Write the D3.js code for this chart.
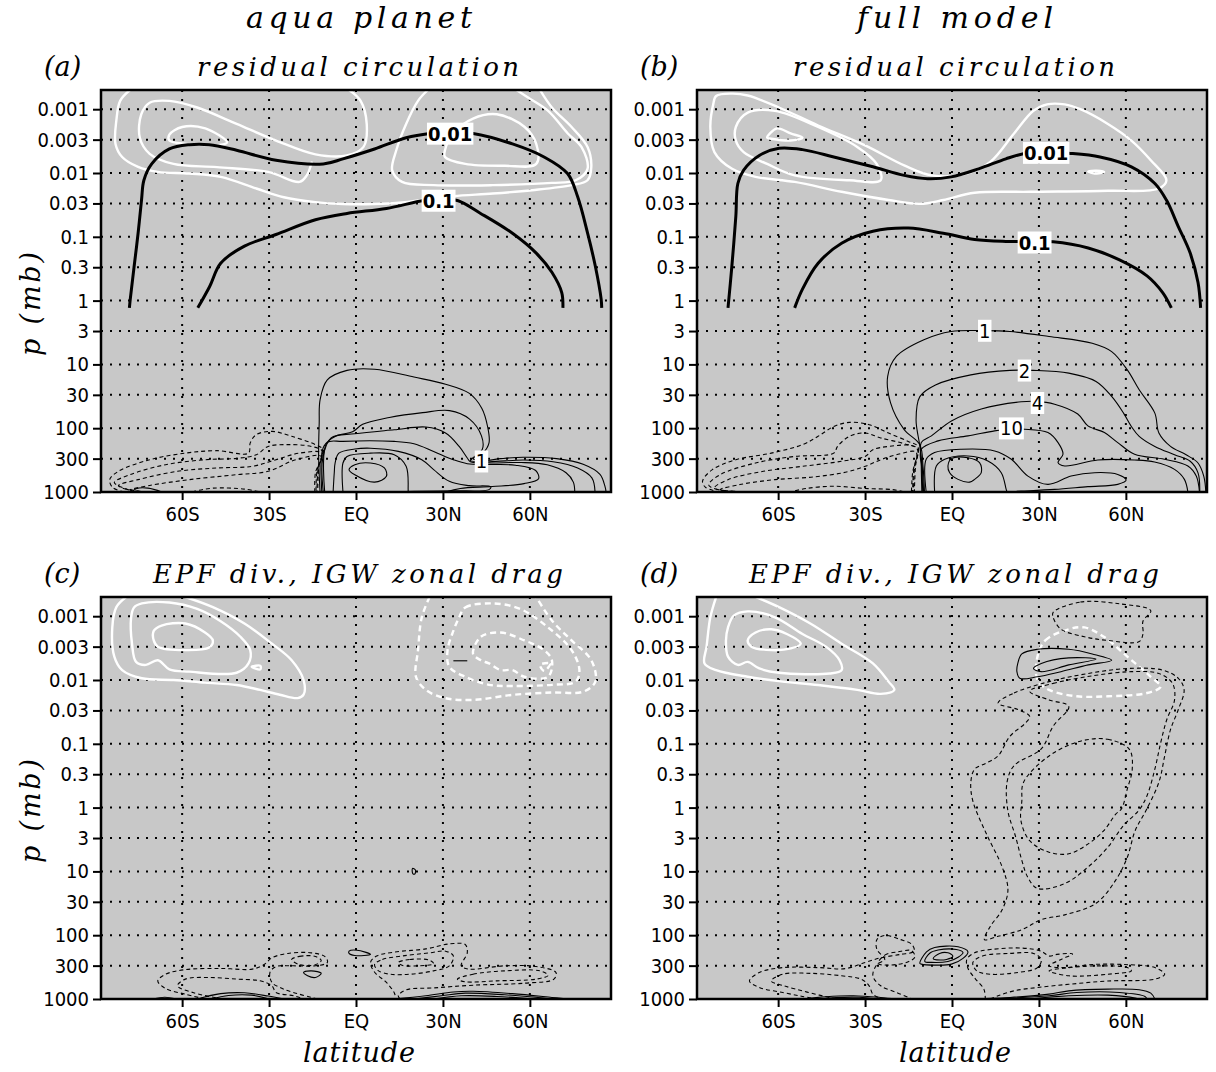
<!DOCTYPE html>
<html>
<head>
<meta charset="utf-8">
<script src="https://cdn.jsdelivr.net/npm/d3@7"></script>
<style>
body { margin: 0; background: #fff; }
.tk text { font-family: "Liberation Sans Narrow", "DejaVu Sans Condensed", sans-serif; font-stretch: condensed; font-size: 20px; fill: #000; }
.ttl { font-family: "DejaVu Serif", "Liberation Serif", serif; font-style: italic; fill: #000; }
.lab { font-family: "Liberation Sans Narrow", "DejaVu Sans Condensed", sans-serif; font-stretch: condensed; font-size: 20px; }
</style>
</head>
<body>
<svg width="1216" height="1072"></svg>
<script>
// axis values
var pTicks = [0.001, 0.003, 0.01, 0.03, 0.1, 0.3, 1, 3, 10, 30, 100, 300, 1000];
var pTickLabels = ["0.001", "0.003", "0.01", "0.03", "0.1", "0.3", "1", "3", "10", "30", "100", "300", "1000"];
var latTicks = [-60, -30, 0, 30, 60];
var latTickLabels = ["60S", "30S", "EQ", "30N", "60N"];
var colTitles = ["aqua planet", "full model"];
var panelTitles = ["residual circulation", "residual circulation", "EPF div., IGW zonal drag", "EPF div., IGW zonal drag"];
var panelTags = ["(a)", "(b)", "(c)", "(d)"];

// contours, points are [latitude, pressure mb]
// ---- panel a ----
var aWhite = [
  [[-78,0.0005],[-81.4,0.00074],[-82.7,0.0015],[-83,0.0035],[-80.7,0.0056],[-75.2,0.008],[-68.4,0.0096],[-57.6,0.0102],[-46.7,0.0115],[-34.4,0.0175],[-24.9,0.024],[-14,0.0286],[-4.5,0.0306],[6.4,0.0306],[15.9,0.029],[22.7,0.0265],[33.5,0.023],[47.2,0.021],[60.8,0.0186],[74.4,0.0155],[79.9,0.013],[81.2,0.0081],[79.9,0.0039],[74.4,0.0019],[67.6,0.00094],[63.5,0.0005]],
  [[-2.4,0.0005],[1.6,0.00074],[3.7,0.0017],[2.6,0.0039],[-3.1,0.0053],[-14,0.0051],[-27.6,0.0031],[-41.2,0.0017],[-54.8,0.00094],[-64.4,0.00074],[-71.2,0.00079],[-74.1,0.0012],[-74.6,0.0028],[-71.2,0.005],[-63,0.0072],[-48,0.0081],[-30.3,0.0096],[-19.5,0.0138],[-17,0.0109],[-15.2,0.0066]],
  [[24.8,0.0005],[21.4,0.00074],[17.3,0.0017],[13.9,0.0044],[12.5,0.0091],[15.9,0.0138],[26.8,0.0155],[47.2,0.0155],[67.6,0.0143],[75.8,0.013],[79.9,0.0086],[77.8,0.0039],[73.1,0.0024],[66.3,0.00106],[59.5,0.00066],[55.4,0.0005]]
];
var aWhiteLoop = [
  [[-64.4,0.0025],[-60,0.0019],[-52,0.002],[-44.5,0.0033],[-46.5,0.0036],[-58.6,0.0035],[-64.4,0.0031]],
  [[30.7,0.0044],[33.5,0.0024],[40.4,0.0014],[48.6,0.0012],[58.2,0.0019],[62.2,0.0035],[62.2,0.0072],[51.3,0.0077],[37.7,0.0072],[30.7,0.0056]]
];
var aThick = [
  [[-78.2,1.3],[-77.9,0.95],[-76.6,0.3],[-75.2,0.088],[-74,0.026],[-73.2,0.013],[-70.5,0.0072],[-64.4,0.0042],[-57.5,0.0036],[-50.7,0.0036],[-41.2,0.0044],[-27.6,0.0063],[-11.3,0.0072],[-4.5,0.006],[6.4,0.0042],[17.3,0.0028],[25.4,0.0024],[32,0.0023],[40.4,0.0024],[54,0.0035],[64.9,0.0056],[73,0.0102],[76.5,0.0236],[79.9,0.087],[82.6,0.29],[84.6,0.95],[84.8,1.3]],
  [[-54.6,1.3],[-50.5,0.6],[-46.7,0.26],[-38.5,0.14],[-27.6,0.092],[-14,0.054],[-3.1,0.043],[10.5,0.036],[23.4,0.027],[29,0.026],[35,0.027],[43,0.043],[54,0.088],[62.2,0.18],[67.6,0.36],[71,0.75],[71.4,1.3]]
];
var aThickLabels = [["0.01", 32.5, 0.0024], ["0.1", 28.5, 0.027]];
var aThin = [
  [[-12.4,1000],[-12.9,277],[-12.7,83],[-12.4,36],[-9.9,17.5],[-3.1,12.4],[6.4,11.9],[20,15.8],[30.9,20.4],[39,28.2],[43.4,48.5],[45.4,94],[45.9,170],[43.8,246],[40.4,300],[44,322],[50,300],[57.7,285],[69.2,300],[78.4,368],[84.2,530],[85.9,810],[86.3,1000]],
  [[-11.8,1000],[-12,300],[-11,189],[-6.9,132],[-1.2,114],[2.3,87],[11.5,68],[23,57],[32.3,53],[39.2,72],[43.3,132],[43.6,214],[40.4,290],[39.5,322],[46,335],[57.7,315],[68,335],[76.5,420],[81.4,600],[82.5,1000]],
  [[-11.3,1000],[-11.5,300],[-8.6,142],[-0.4,122],[13.2,106],[24.1,96],[30.9,119],[35.6,193],[38.4,293],[39.5,335],[46,350],[57,345],[66,375],[72.5,500],[75,700],[75.5,1000]],
  [[-10.8,1000],[-10,170],[-4.5,161],[13.2,161],[20,175],[26.8,231],[33.6,312],[38.4,360],[46,370],[55,380],[62,460],[63,620],[58,740],[47,820],[36,880],[31,1000]],
  [[-7.9,1000],[-7.5,500],[-7.2,351],[-5.9,246],[-0.4,212],[5,206],[14.6,231],[22.7,312],[26.8,446],[32.2,680],[39,795],[46.5,830],[45.9,918],[33.6,955],[20,975],[12,1000]],
  [[-4.5,1000],[-4.5,351],[-3.1,277],[5,246],[13.2,261],[17.3,396],[18,918],[18,1000]],
  [[-77.3,1000],[-75.9,890],[-71.8,870],[-67,1000]]
];
var aThinLoop = [
  [[-2.4,446],[-0.4,373],[5,351],[9.8,420],[10.5,568],[6.4,700],[-0.4,535]]
];
var aThinLabels = [["1", 43.3, 330]];
var aDash = [
  [[-80,1000],[-84,850],[-85,640],[-82,474],[-71.2,312],[-58.9,246],[-48,225],[-37.1,246],[-36.5,170],[-34.4,126],[-29,112],[-22.2,134],[-14,181],[-11.3,218],[-12.8,400],[-13.2,1000]],
  [[-76,1000],[-82,800],[-83.4,707],[-78,535],[-65.7,373],[-52.1,312],[-41.2,297],[-34.4,261],[-30.3,193],[-23.5,181],[-15.4,193],[-11.6,230],[-13,400],[-13.5,1000]],
  [[-72,1000],[-80.5,870],[-82,790],[-75.2,640],[-61.6,474],[-48,420],[-35.8,396],[-27.6,312],[-19.5,246],[-11.6,246],[-13.4,450],[-13.8,1000]],
  [[-70,1000],[-78,930],[-71.2,790],[-57.5,640],[-41.2,535],[-30.3,474],[-20.8,312],[-12,277],[-14,500],[-14.2,1000]],
  [[-56.5,1000],[-55.5,970],[-49.4,870],[-38.5,900],[-33,1000]]
];

// ---- panel b ----
var bWhiteLoop = [
  [[-81.4,0.00062],[-75.9,0.00057],[-70.5,0.00061],[-59.7,0.00094],[-46.2,0.0018],[-30,0.0037],[-16.5,0.0076],[-7,0.0109],[5.1,0.0102],[13.2,0.0067],[21.4,0.0024],[28.1,0.00106],[32.8,0.00084],[38.9,0.00084],[44.3,0.001],[53.8,0.0017],[61.9,0.0031],[68.6,0.0063],[74,0.013],[71.4,0.0175],[53.8,0.019],[26.8,0.0197],[7.8,0.0204],[-3,0.0265],[-11.1,0.0305],[-21.9,0.0265],[-38.1,0.0197],[-54.3,0.0138],[-67.8,0.0115],[-75.9,0.0086],[-82,0.0047],[-83.4,0.0019],[-82.4,0.00084]],
  [[-74.6,0.0019],[-70.5,0.00113],[-61.1,0.00106],[-46.2,0.0019],[-32.7,0.0039],[-26,0.0072],[-24.6,0.013],[-35.4,0.013],[-54.3,0.0109],[-63.8,0.0072],[-71.9,0.0047],[-74.6,0.0031]],
  [[-63.8,0.0028],[-60.4,0.002],[-55.7,0.0024],[-51.6,0.0028],[-55.7,0.0031],[-62.4,0.0029]],
  [[47,0.0095],[50,0.0092],[52.5,0.0096],[50,0.0102]]
];
var bThick = [
  [[-77.3,1.3],[-76,0.3],[-74.6,0.048],[-73.9,0.0146],[-71.9,0.009],[-66.5,0.0053],[-59.7,0.0041],[-51.6,0.0043],[-40.8,0.0056],[-27.3,0.008],[-16.5,0.0109],[-8.4,0.0123],[-0.3,0.0115],[9.2,0.0086],[18.6,0.006],[25.4,0.0049],[32,0.0047],[40.3,0.0049],[51.1,0.0056],[61.9,0.008],[70,0.0146],[74,0.0266],[78.1,0.069],[82.2,0.18],[84.9,0.52],[85.8,1.3]],
  [[-54.3,1.3],[-51.6,0.66],[-46.2,0.26],[-38.1,0.126],[-27.3,0.082],[-15.1,0.073],[-3,0.088],[7.8,0.11],[18.6,0.118],[26,0.119],[34.9,0.12],[47,0.15],[57.8,0.23],[67.3,0.41],[72.7,0.75],[75.7,1.3]]
];
var bThickLabels = [["0.01", 32.5, 0.0048], ["0.1", 28.5, 0.122]];
var bThin = [
  [[-9.5,1000],[-10,400],[-11.1,181],[-16.5,105],[-21.2,40],[-22.2,15.4],[-19.2,7.5],[-9.7,4.1],[-0.3,3.05],[11.2,2.95],[20,3.05],[33.5,3.66],[48.4,4.66],[55.1,6.3],[60.5,12.2],[64.6,25],[70,58],[71.4,119],[75.4,193],[80.8,261],[84.9,351],[86.9,568],[87.6,1000]],
  [[-9.8,1000],[-10.3,400],[-11.1,190],[-12.4,74],[-11.1,32],[-5.7,21],[6.5,14.6],[20,12.4],[28.1,12.4],[40.3,13.7],[49.7,18.5],[55.1,31.8],[59.2,58],[61.9,94],[64.6,134],[70,193],[76.8,261],[82.2,330],[84.9,502],[85.5,1000]],
  [[-10.1,1000],[-10.4,400],[-10.6,168],[-7.1,132],[-0.2,77],[10.1,50],[23.9,38.6],[29,38],[35.4,42],[43.4,60],[46.9,92],[52.6,117],[57.2,168],[63,256],[73.3,307],[81.4,391],[84.3,563],[85.4,1000]],
  [[-10.4,1000],[-10.6,400],[-10.6,214],[-4.8,158],[5.5,132],[14.7,110],[18,106],[22,104],[25.1,104],[33.1,117],[36.6,168],[38.3,256],[36.6,346],[38.9,391],[50.3,315],[63,315],[69.9,338],[76.8,442],[80.2,634],[81.4,1000]],
  [[-8.9,1000],[-8.9,307],[-6,241],[3.2,214],[14.7,227],[20.5,307],[26.2,563],[33.1,760],[41.1,563],[49.2,498],[57.2,530],[60.1,650],[57.2,760],[46.9,825],[35.4,910],[23.9,970],[18,1000]],
  [[-6,1000],[-5.4,391],[-2.5,307],[5.5,272],[12.4,326],[17,498],[18.7,910],[19,1000]]
];
var bThinLoop = [
  [[-1.4,391],[-0.2,300],[5.5,290],[9.5,346],[10.1,498],[7.8,634],[6.1,700],[2.1,634],[-0.8,498]]
];
var bThinLabels = [["1", 11.3, 2.95], ["2", 25, 12.4], ["4", 29.5, 40], ["10", 20.5, 100]];
var bDash = [
  [[-80,1000],[-85,850],[-86.1,680],[-82.7,446],[-74.6,312],[-62.4,246],[-51.6,181],[-46.2,134],[-40.8,94],[-35.4,81],[-28.6,88],[-21.9,119],[-15.1,161],[-11.8,193],[-12.6,400],[-13,1000]],
  [[-76,1000],[-83,850],[-84,764],[-80,535],[-67.8,351],[-54.3,277],[-40.8,246],[-39.5,193],[-35.4,134],[-30,119],[-24.6,142],[-16.5,175],[-11.8,211],[-12.9,400],[-13.3,1000]],
  [[-73,1000],[-82,865],[-77.3,640],[-65.1,474],[-51.6,396],[-38.1,330],[-30,277],[-27.3,218],[-21.9,193],[-13.8,188],[-11.8,222],[-13.2,450],[-13.6,1000]],
  [[-70,1000],[-80,918],[-73.2,764],[-61.1,640],[-47.6,580],[-36.8,490],[-30,396],[-24.6,312],[-19.2,261],[-12.4,237],[-13.6,500],[-14,1000]],
  [[-56.5,1000],[-55.7,990],[-50.3,880],[-40.8,812],[-30,880],[-20.5,918],[-16.5,1000]]
];

// ---- panel c ----
var cWhite = [
  [[-79.3,0.0005],[-82.7,0.00072],[-84.1,0.0015],[-83.4,0.0043],[-80.7,0.007],[-73.9,0.0094],[-63,0.01],[-52.1,0.011],[-41.2,0.012],[-33.1,0.0143],[-26.3,0.017],[-20.1,0.0192],[-18.1,0.017],[-18.1,0.01],[-22.2,0.0049],[-29,0.0027],[-38.5,0.0013],[-49.4,0.00072],[-58.9,0.0005]]
];
var cWhiteLoop = [
  [[-76.6,0.00073],[-73.9,0.00063],[-64.4,0.00061],[-54.8,0.00077],[-46.7,0.0012],[-39.9,0.0021],[-36.5,0.0034],[-37.1,0.0055],[-41.2,0.0077],[-57.6,0.0074],[-64.4,0.0068],[-68.4,0.0049],[-72.5,0.0058],[-75.9,0.0052],[-77.3,0.0027],[-77.6,0.00104]],
  [[-69.8,0.0017],[-67.1,0.0014],[-58.9,0.0013],[-52.1,0.0018],[-49.4,0.0024],[-50.7,0.0031],[-58.9,0.0034],[-68.4,0.003],[-69.8,0.0024]],
  [[-36,0.0062],[-33,0.006],[-33,0.0068]]
];
var cWhiteDash = [
  [[25.4,0.0005],[22.7,0.00104],[21.4,0.0034],[20.7,0.0089],[24.1,0.0143],[30.9,0.0193],[40.4,0.0205],[54,0.0171],[67.6,0.0157],[78.5,0.0152],[82.6,0.0106],[81.2,0.0049],[74.4,0.0024],[67.6,0.00117],[62.2,0.0005]]
];
var cWhiteDashLoop = [
  [[35.6,0.00104],[37.7,0.00073],[47.2,0.00063],[56.7,0.00077],[66.3,0.0015],[74.4,0.0034],[77.1,0.007],[75.8,0.0106],[67.6,0.0119],[54,0.0124],[45.9,0.0119],[37.7,0.0089],[32.2,0.0062],[31.6,0.0034],[33.6,0.0017]],
  [[40.4,0.0039],[43.1,0.0021],[49.9,0.0018],[58.1,0.0024],[64.9,0.0034],[67.6,0.0049],[66.3,0.0089],[58.1,0.0089],[54,0.007],[49.9,0.007],[45.9,0.0055],[43.1,0.0049]],
  [[63.5,0.0058],[67,0.0055],[65,0.0072]]
];
var cThin = [
  [[33.6,0.005],[38.4,0.005]],
  [[-54.8,1000],[-46.7,825],[-38.5,800],[-30.3,900],[-24.9,1000]],
  [[-50,1000],[-44,880],[-36,870],[-30,1000]],
  [[-70,1000],[-66,940],[-62,1000]],
  [[13.2,1000],[24.1,891],[33.6,776],[40.4,758],[54,825],[67.6,945],[73,1000]],
  [[20,1000],[29.5,891],[37.7,810],[51.3,860],[64.9,970],[67.6,1000]],
  [[26.8,1000],[36.3,891],[48.6,912],[60.8,1000]]
];
var cThinLoop = [
  [[-18.1,384],[-15.4,362],[-12,395],[-14,460],[-16.7,433]],
  [[-2.4,178],[0.3,172],[5,200],[-0.4,208],[-2.4,193]],
  [[19.5,9],[20.5,9.5],[20.3,11],[19.6,10.8]]
];
var cDash = [
  [[-52.1,1000],[-58.9,840],[-65.7,686],[-68.4,522],[-65.7,409],[-58.9,346],[-46.7,332],[-35.8,340],[-31.7,288],[-29,226],[-23.5,193],[-15.4,189],[-10.6,218],[-9.9,268],[-14,302],[-22.2,302],[-27.6,310],[-29.7,384],[-29,551],[-25.6,680],[-20.8,810],[-15.4,945],[-13.3,1000]],
  [[-46,1000],[-56,800],[-61.6,621],[-58.9,488],[-50.7,460],[-41.2,488],[-33.1,519],[-29,621],[-27.6,790],[-21.5,891],[-18,1000]],
  [[15.2,1000],[14.6,891],[17.3,720],[26.8,670],[40.4,608],[58.1,565],[68.3,488],[69,384],[62.2,310],[51.3,302],[39,340],[36.3,302],[38.4,189],[37.7,140],[32.2,137],[24.1,164],[13.2,184],[7.1,212],[5,268],[6.5,384],[10.5,550],[13.2,800],[13.8,1000]]
];
var cDashLoop = [
  [[-22.2,240],[-19.5,215],[-14,215],[-12,250],[-14,290],[-19.5,290]],
  [[6.4,288],[9.1,240],[15.9,212],[25.4,189],[30.9,178],[33.6,212],[32.2,302],[26.8,362],[18.6,409],[11.8,409],[7.8,362]],
  [[14.6,268],[18.6,240],[25.4,246],[26.8,280],[21.4,302],[15.9,296]],
  [[35,488],[40.4,409],[51.3,362],[63.5,362],[66.3,427],[62.2,488],[48.6,519],[37.7,537]]
];

// ---- panel d ----
var dWhite = [
  [[-81.4,0.0005],[-83.4,0.00104],[-84.7,0.003],[-85.4,0.0055],[-81.4,0.007],[-70.5,0.0089],[-59.7,0.0104],[-46.2,0.012],[-32.7,0.0143],[-24.6,0.0165],[-19.9,0.0143],[-21.9,0.0106],[-27.3,0.0055],[-38.1,0.0027],[-48.9,0.0013],[-59.7,0.00072],[-67.8,0.0005]]
];
var dWhiteLoop = [
  [[-77.3,0.0015],[-75.3,0.00098],[-70.5,0.00084],[-61.1,0.00104],[-51.6,0.0019],[-43.5,0.003],[-38.8,0.0049],[-38.1,0.007],[-42.2,0.0079],[-59.7,0.0077],[-66.5,0.0066],[-70.5,0.0052],[-73.9,0.0058],[-77.3,0.0043],[-78,0.0024]],
  [[-70.5,0.0024],[-67.8,0.0018],[-62.4,0.0016],[-57,0.0019],[-52.2,0.0027],[-55.6,0.0032],[-62.4,0.0034],[-69.2,0.003]]
];
var dWhiteDashLoop = [
  [[29.5,0.0043],[32.2,0.0024],[40.3,0.0016],[45.7,0.0015],[52.4,0.0021],[60.5,0.0043],[68.6,0.0089],[72,0.0127],[67.3,0.016],[53.8,0.018],[43,0.018],[33.5,0.0143],[29.5,0.01]]
];
var dThin = [
  [[-51.6,1000],[-43.5,920],[-34,891],[-24.6,945],[-19.2,1000]],
  [[-46,1000],[-40,950],[-32,940],[-26,1000]],
  [[5.1,1000],[20,945],[33.5,840],[40.3,745],[53.8,700],[64.6,715],[68.6,810],[70,1000]],
  [[13.2,1000],[33.5,891],[43,790],[57.8,790],[66.6,912],[67.3,1000]],
  [[26.8,1000],[40.3,891],[53.8,870],[63.2,970],[64,1000]]
];
var dThinLoop = [
  [[22.7,0.0055],[24.1,0.0039],[29.5,0.0033],[40.3,0.0033],[48.4,0.0039],[55.1,0.0049],[47,0.0058],[37.6,0.0074],[29.5,0.0089],[23.4,0.0094],[22.4,0.0074]],
  [[28.1,0.0066],[30.8,0.0055],[40.3,0.0045],[49.7,0.0047],[40.3,0.0058],[30.8,0.0074]],
  [[-11.1,277],[-8.8,182],[-6,156],[2.1,152],[5.5,182],[3.8,231],[-0.2,284],[-6,294],[-10.6,284]],
  [[-9.4,258],[-7.7,192],[-4.8,171],[1.5,168],[3.8,187],[2.1,221],[-1.4,258],[-7.1,267]],
  [[-6.5,231],[-4.3,193],[-1.4,189],[0.3,213],[-1.9,240],[-6,240]]
];
var dDash = [
  [[-46.2,1000],[-51.6,912],[-58.4,790],[-66.5,660],[-69.9,522],[-66.5,384],[-58.4,322],[-46.2,322],[-36.8,334],[-30,268],[-24.6,226],[-17.8,200],[-13.1,178],[-13.8,140],[-17.8,117],[-23.2,101],[-25.9,117],[-25.9,168],[-23.2,240],[-25.9,288],[-27.3,433],[-24.6,621],[-19.2,790],[-15.1,945],[-13.8,1000]],
  [[-40,1000],[-50,780],[-58,620],[-62.4,522],[-58.4,409],[-48.9,396],[-38.1,433],[-31.4,488],[-28.6,621],[-27.3,840],[-24.6,970],[-23,1000]],
  [[13.2,1000],[15.9,891],[21.4,745],[29.5,660],[40.3,588],[53.8,522],[70,488],[73.4,409],[70,322],[59.2,288],[48.4,288],[38.9,322],[33.5,302],[37.6,240],[41.6,196],[36.2,200],[33.5,212],[30.8,178],[24.1,159],[13.2,168],[7.8,189],[5.1,240],[5.5,330],[8,480],[11,700],[11.5,1000]]
];
var dDashLoop = [
  [[34.9,0.00087],[44.3,0.0006],[57.8,0.00064],[68.6,0.00082],[65.9,0.0012],[65.9,0.0019],[64.6,0.0025],[53.8,0.0024],[45.7,0.0021],[37.6,0.0016],[34.9,0.00104]],
  [[15.9,0.023],[21.4,0.016],[33.5,0.0106],[47,0.0079],[60.5,0.0066],[72.7,0.007],[78.1,0.0094],[80.1,0.0143],[78.1,0.029],[75.4,0.06],[73.4,0.155],[71.4,0.4],[67,1.1],[63.2,2.3],[60.5,6],[56.5,13.7],[49.7,31.6],[38.9,48],[30.8,57],[24.1,82],[15.9,104],[11.2,117],[13.2,73],[17.3,40],[19.3,19.6],[17.3,8.5],[11.9,2.6],[7.2,0.79],[6.5,0.4],[7.8,0.25],[11.9,0.2],[15.9,0.155],[20,0.076],[25.4,0.047],[26.8,0.037],[22.7,0.029]],
  [[26.8,0.015],[34.9,0.0113],[48.4,0.0086],[61.9,0.0074],[71.4,0.0079],[76.1,0.0113],[76.8,0.0205],[74.1,0.042],[72,0.097],[70,0.25],[67.3,0.65],[64.5,1.1],[59.2,1.9],[53.8,4.17],[47,8.5],[38.9,15.5],[29.5,18.5],[26.1,12.2],[24.1,6.7],[22,2.9],[19.3,1.13],[19,0.4],[21.4,0.22],[30.8,0.12],[34.9,0.053],[40.3,0.026],[33.5,0.0205]],
  [[44.3,0.091],[53.8,0.085],[61.2,0.122],[62.2,0.25],[60.5,0.51],[58.5,1.04],[56.5,1.27],[52.4,2.3],[47,3.7],[40.3,5.3],[33.5,5],[26.8,3.3],[23.8,1.61],[24.1,0.79],[24.7,0.4],[33.5,0.155]],
  [[-25.5,277],[-23.2,205],[-18.6,182],[-14,175],[-12.8,218],[-15.1,261],[-22,294]],
  [[7.2,268],[10.5,212],[20,193],[28.1,193],[30.8,240],[29.5,322],[22.7,384],[13.2,409],[8.5,362]],
  [[33.5,362],[40.3,322],[51.1,302],[60.5,322],[61.9,362],[53.8,409],[40.3,433]]
];

var svg = d3.select('svg');
var W = 510, H = 402;
var x = d3.scaleLinear().domain([-88, 88]).range([0, W]);
var y = d3.scaleLog().domain([1000, 0.0005]).range([H, 0]);

var lineOpen = d3.line().x(function(d) { return x(d[0]); }).y(function(d) { return y(d[1]); }).curve(d3.curveCatmullRom.alpha(0.5));
var lineLoop = d3.line().x(function(d) { return x(d[0]); }).y(function(d) { return y(d[1]); }).curve(d3.curveCatmullRomClosed.alpha(0.5));

var styles = {
    white: {stroke: "#fff", width: 2.4, dash: null},
    whiteDash: {stroke: "#fff", width: 2.4, dash: "6,4"},
    thick: {stroke: "#000", width: 3, dash: null},
    thin: {stroke: "#000", width: 1.1, dash: null},
    dash: {stroke: "#000", width: 1.1, dash: "4,3"}
};

var panels = [
    {left: 101, top: 90, layers: [["white", aWhite, false], ["white", aWhiteLoop, true], ["dash", aDash, false], ["thin", aThin, false], ["thin", aThinLoop, true], ["thick", aThick, false]],
     labels: [[aThickLabels, true], [aThinLabels, false]]},
    {left: 697, top: 90, layers: [["white", bWhiteLoop, true], ["dash", bDash, false], ["thin", bThin, false], ["thin", bThinLoop, true], ["thick", bThick, false]],
     labels: [[bThickLabels, true], [bThinLabels, false]]},
    {left: 101, top: 597, layers: [["white", cWhite, false], ["white", cWhiteLoop, true], ["whiteDash", cWhiteDash, false], ["whiteDash", cWhiteDashLoop, true], ["dash", cDash, false], ["dash", cDashLoop, true], ["thin", cThin, false], ["thin", cThinLoop, true]],
     labels: []},
    {left: 697, top: 597, layers: [["white", dWhite, false], ["white", dWhiteLoop, true], ["whiteDash", dWhiteDashLoop, true], ["dash", dDash, false], ["dash", dDashLoop, true], ["thin", dThin, false], ["thin", dThinLoop, true]],
     labels: []}
];

panels.forEach(function(pn, i) {
    var g = svg.append("g").attr("transform", "translate(" + pn.left + "," + pn.top + ")");

    g.append("clipPath").attr("id", "clip" + i)
        .append("rect").attr("width", W).attr("height", H);

    g.append("rect").attr("width", W).attr("height", H).attr("fill", "#c8c8c8");

    var inner = g.append("g").attr("clip-path", "url(#clip" + i + ")");

    // dotted grid
    inner.selectAll("line.hg").data(pTicks).enter().append("line")
        .attr("x1", 0).attr("x2", W)
        .attr("y1", function(d) { return y(d); }).attr("y2", function(d) { return y(d); })
        .attr("stroke", "#000").attr("stroke-width", 2).attr("stroke-dasharray", "2,7");
    inner.selectAll("line.vg").data(latTicks).enter().append("line")
        .attr("y1", 0).attr("y2", H)
        .attr("x1", function(d) { return x(d); }).attr("x2", function(d) { return x(d); })
        .attr("stroke", "#000").attr("stroke-width", 2).attr("stroke-dasharray", "2,7");

    pn.layers.forEach(function(l) {
        var st = styles[l[0]];
        inner.append("g").selectAll("path").data(l[1]).enter().append("path")
            .attr("d", l[2] ? lineLoop : lineOpen)
            .attr("fill", "none")
            .attr("stroke", st.stroke)
            .attr("stroke-width", st.width)
            .attr("stroke-linejoin", "round")
            .attr("stroke-dasharray", st.dash);
    });

    pn.labels.forEach(function(lb) {
        lb[0].forEach(function(d) {
            var lg = inner.append("g").attr("transform", "translate(" + x(d[1]) + "," + y(d[2]) + ")");
            var r = lg.append("rect").attr("fill", "#fff");
            var t = lg.append("text").attr("class", "lab")
                .attr("text-anchor", "middle").attr("dy", "0.36em")
                .attr("font-weight", lb[1] ? "bold" : "normal")
                .text(d[0]);
            var bb = t.node().getBBox();
            r.attr("x", bb.x - 1).attr("y", bb.y + 1).attr("width", bb.width + 2).attr("height", bb.height - 2);
        });
    });

    g.append("rect").attr("width", W).attr("height", H)
        .attr("fill", "none").attr("stroke", "#000").attr("stroke-width", 2.5);

    var ya = g.append("g").attr("class", "tk")
        .call(d3.axisLeft(y).tickValues(pTicks).tickSize(8).tickPadding(4)
            .tickFormat(function(d, k) { return pTickLabels[k]; }));
    ya.select(".domain").remove();
    ya.selectAll("line").attr("stroke-width", 2);

    var xa = g.append("g").attr("class", "tk").attr("transform", "translate(0," + H + ")")
        .call(d3.axisBottom(x).tickValues(latTicks).tickSize(8).tickPadding(7)
            .tickFormat(function(d, k) { return latTickLabels[k]; }));
    xa.select(".domain").remove();
    xa.selectAll("line").attr("stroke-width", 2);

    // titles
    svg.append("text").attr("class", "ttl")
        .attr("x", pn.left - 57).attr("y", pn.top - 14)
        .attr("font-size", 27).text(panelTags[i]);
    svg.append("text").attr("class", "ttl")
        .attr("x", pn.left + W / 2 + 2).attr("y", pn.top - 14)
        .attr("text-anchor", "middle").attr("font-size", 26)
        .attr("textLength", i < 2 ? 322 : 410).attr("lengthAdjust", "spacing")
        .text(panelTitles[i]);

    if (i % 2 == 0) {
        svg.append("text").attr("class", "ttl")
            .attr("transform", "translate(40," + (pn.top + 214) + ") rotate(-90)")
            .attr("text-anchor", "middle").attr("font-size", 27)
            .attr("textLength", 104).attr("lengthAdjust", "spacing")
            .text("p (mb)");
    }
    if (i < 2) {
        svg.append("text").attr("class", "ttl")
            .attr("x", pn.left + W / 2 + 3).attr("y", 28)
            .attr("text-anchor", "middle").attr("font-size", 30)
            .attr("textLength", i == 0 ? 226 : 196).attr("lengthAdjust", "spacing")
            .text(colTitles[i]);
    } else {
        svg.append("text").attr("class", "ttl")
            .attr("x", pn.left + W / 2 + 3).attr("y", 1062)
            .attr("text-anchor", "middle").attr("font-size", 27)
            .attr("textLength", 112).attr("lengthAdjust", "spacing")
            .text("latitude");
    }
});
</script>
</body>
</html>
